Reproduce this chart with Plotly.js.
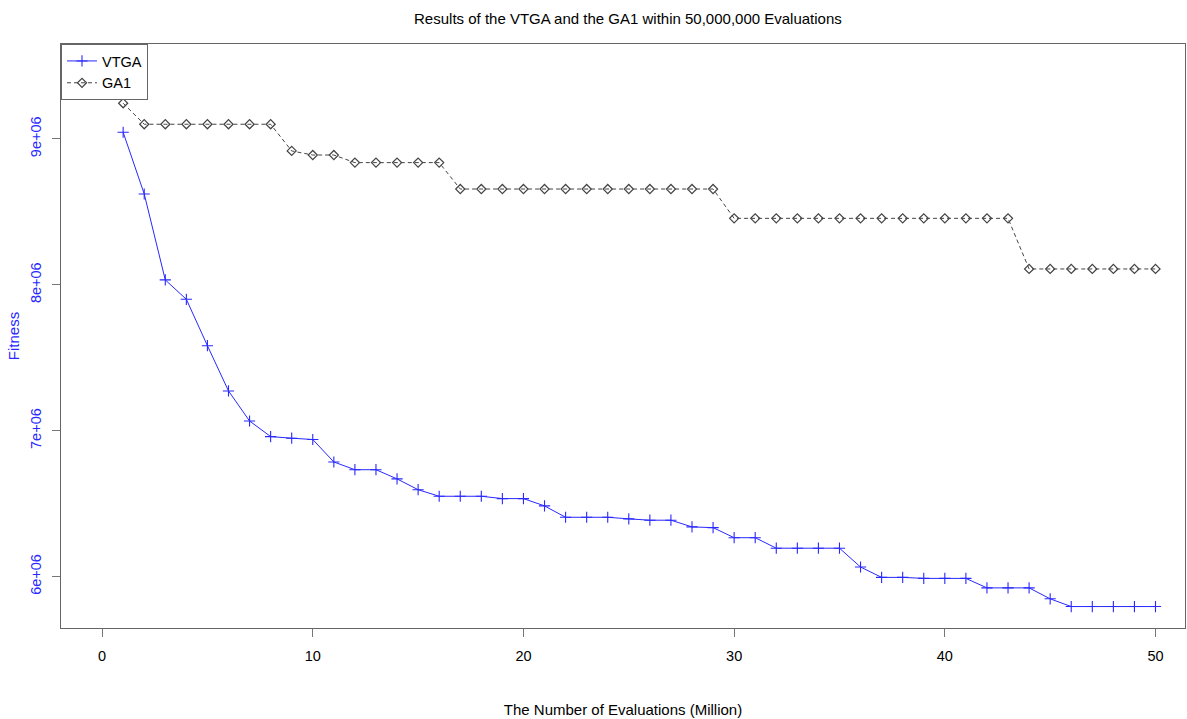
<!DOCTYPE html>
<html>
<head>
<meta charset="utf-8">
<script src="https://cdn.plot.ly/plotly-3.0.1.min.js"></script>
<style>html,body{margin:0;padding:0;background:#fff;}#chart{width:1187px;height:719px;}</style>
</head>
<body>
<div id="chart"></div>
<script>
const evaluations = [1,2,3,4,5,6,7,8,9,10,11,12,13,14,15,16,17,18,19,20,21,22,23,24,25,26,27,28,29,30,31,32,33,34,35,36,37,38,39,40,41,42,43,44,45,46,47,48,49,50];
const vtga = [9046000,8623000,8034000,7901000,7583000,7273000,7067000,6960000,6949000,6940000,
              6786000,6733000,6733000,6670000,6596000,6551000,6551000,6551000,6535000,6535000,
              6485000,6407000,6407000,6407000,6396000,6387000,6387000,6341000,6336000,6267000,
              6267000,6195000,6195000,6195000,6195000,6066000,5995000,5995000,5988000,5988000,
              5988000,5923000,5923000,5923000,5848000,5795000,5795000,5795000,5795000,5795000];
const ga1 = [9245000,9101000,9101000,9101000,9101000,9101000,9101000,9101000,8918000,8890000,
             8890000,8838000,8838000,8838000,8838000,8838000,8657000,8657000,8657000,8657000,
             8657000,8657000,8657000,8657000,8657000,8657000,8657000,8657000,8657000,8456000,
             8456000,8456000,8456000,8456000,8456000,8456000,8456000,8456000,8456000,8456000,
             8456000,8456000,8456000,8109000,8109000,8109000,8109000,8109000,8109000,8109000];
const xTicks = [0,10,20,30,40,50];
const yTicks = [6000000,7000000,8000000,9000000];
const yTickLabels = ['6e+06','7e+06','8e+06','9e+06'];

const FONT = 'Liberation Sans, Arial, sans-serif';
const BLUE = 'rgb(40,40,255)';
const traces = [
  {x: evaluations, y: vtga, name: 'VTGA', type: 'scatter', mode: 'lines+markers',
   line: {color: BLUE, width: 1},
   marker: {symbol: 'cross-thin-open', size: 8, color: BLUE, line: {color: BLUE, width: 1.1}}},
  {x: evaluations, y: ga1, name: 'GA1', type: 'scatter', mode: 'lines+markers',
   line: {color: '#444', width: 1, dash: '4px,3px'},
   marker: {symbol: 'diamond-open', size: 7, color: '#444', line: {color: '#444', width: 1.2}}}
];
const layout = {
  width: 1187, height: 719,
  margin: {l: 61, r: 2, t: 44, b: 91},
  paper_bgcolor: '#fff', plot_bgcolor: '#fff',
  font: {family: FONT, size: 14.5, color: '#000'},
  title: {text: 'Results of the VTGA and the GA1 within 50,000,000 Evaluations',
          font: {family: FONT, size: 15, color: '#000'}, x: 0.529, xanchor: 'center', y: 0.974, yanchor: 'middle'},
  showlegend: true,
  legend: {x: 0, y: 1, xanchor: 'left', yanchor: 'top', bgcolor: '#fff', bordercolor: '#666', borderwidth: 1,
           font: {family: FONT, size: 14.5, color: '#000'}, tracegroupgap: 0, itemwidth: 30},
  xaxis: {range: [-1.95, 51.4], tickvals: xTicks, ticktext: xTicks.map(String), showgrid: false, zeroline: false,
          showline: true, linecolor: '#666', linewidth: 1.2, mirror: true,
          ticks: 'outside', ticklen: 8, tickcolor: '#777', tickwidth: 1,
          ticklabelstandoff: 6, tickfont: {family: FONT, size: 14.5, color: '#000'},
          title: {text: 'The Number of Evaluations (Million)', font: {family: FONT, size: 15, color: '#000'}, standoff: 42}},
  yaxis: {range: [5648000, 9651000], tickvals: yTicks, ticktext: yTickLabels, showgrid: false, zeroline: false,
          showline: true, linecolor: '#666', linewidth: 1.2, mirror: true,
          ticks: 'outside', ticklen: 8, tickcolor: '#777', tickwidth: 1, tickangle: -90,
          ticklabelstandoff: 5, tickfont: {family: FONT, size: 14.5, color: BLUE},
          title: {text: 'Fitness', font: {family: FONT, size: 15, color: BLUE}, standoff: 4}}
};
Plotly.newPlot('chart', traces, layout, {staticPlot: true, displayModeBar: false});
</script>
</body>
</html>
